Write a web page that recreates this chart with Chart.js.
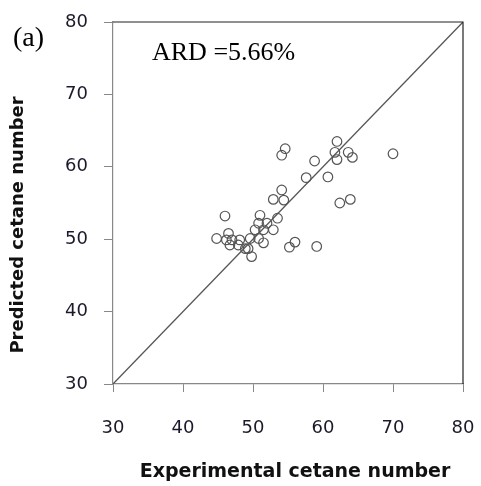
<!DOCTYPE html>
<html>
<head>
<meta charset="utf-8">
<script src="https://cdn.jsdelivr.net/npm/chart.js@4"></script>
<style>
  html, body { margin: 0; padding: 0; background: #fff; }
  canvas { display: block; }
</style>
</head>
<body>
<canvas id="canvas1" width="481" height="486"></canvas>
<script>
// experimental vs predicted cetane number
let expCN = [54.6, 54.1, 58.8, 62.0, 61.7, 62.0, 63.6, 64.2, 57.6, 60.7,
             62.4, 63.9, 54.1, 52.9, 54.4, 70.0,
             46.0, 51.0, 53.5, 50.8, 52.0, 52.9, 51.5, 50.3, 49.6, 50.8,
             51.5, 49.3, 49.8, 44.8, 46.5, 46.2, 47.0, 46.7, 47.9, 48.1,
             48.9, 55.2, 56.0, 59.1];
let predCN = [62.5, 61.6, 60.8, 63.5, 62.0, 61.0, 62.0, 61.3, 58.5, 58.6,
              55.0, 55.5, 56.8, 55.5, 55.4, 61.8,
              53.2, 53.3, 52.9, 52.2, 52.2, 51.3, 51.3, 51.3, 50.1, 50.1,
              49.5, 48.7, 47.6, 50.1, 50.8, 49.9, 49.9, 49.2, 49.2, 49.9,
              48.7, 48.9, 49.6, 49.0];
let parity = [30, 80];
let axisTicks = [30, 40, 50, 60, 70, 80];

let points = [];
for (i = 0; i < expCN.length; i++) {
  points.push({ x: expCN[i], y: predCN[i] });
}

// frame + text labels
const extras = {
  id: 'extras',
  afterDraw(chart) {
    let ctx = chart.ctx;
    let a = chart.chartArea;
    ctx.save();
    ctx.strokeStyle = '#222';
    ctx.lineWidth = 1.2;
    ctx.beginPath();
    ctx.moveTo(a.left, a.top);
    ctx.lineTo(a.right, a.top);
    ctx.lineTo(a.right, a.bottom);
    ctx.stroke();

    ctx.fillStyle = '#000';
    ctx.font = '28px "Liberation Serif"';
    ctx.textBaseline = 'alphabetic';
    ctx.textAlign = 'left';
    ctx.fillText('(a)', 13, 46);
    ctx.font = '26px "Liberation Serif"';
    ctx.fillText('ARD =5.66%', 152, 60);

    ctx.fillStyle = '#111';
    ctx.font = 'bold 19px "DejaVu Sans"';
    ctx.textAlign = 'center';
    ctx.textBaseline = 'middle';
    ctx.fillText('Experimental cetane number', 295, 472);
    ctx.font = 'bold 18px "DejaVu Sans"';
    ctx.translate(18, 225);
    ctx.rotate(-Math.PI / 2);
    ctx.fillText('Predicted cetane number', 0, 0);
    ctx.restore();
  }
};

new Chart(document.getElementById('canvas1'), {
  type: 'scatter',
  data: {
    datasets: [{
      data: points,
      pointStyle: 'circle',
      pointRadius: 4.8,
      borderColor: '#555',
      borderWidth: 1.2,
      backgroundColor: 'rgba(0,0,0,0)',
      order: 1
    }, {
      type: 'line',
      data: [{ x: parity[0], y: parity[0] }, { x: parity[1], y: parity[1] }],
      borderColor: '#555',
      borderWidth: 1.3,
      pointRadius: 0,
      fill: false,
      order: 2
    }]
  },
  options: {
    responsive: false,
    animation: false,
    layout: { padding: { top: 22, right: 18, left: 0, bottom: 0 } },
    plugins: { legend: { display: false }, tooltip: { enabled: false } },
    scales: {
      x: {
        type: 'linear', min: 30, max: 80,
        afterBuildTicks: s => { s.ticks = axisTicks.map(v => ({ value: v })); },
        afterFit: s => { s.height = 102; s.paddingLeft = 0; s.paddingRight = 0; },
        grid: { drawOnChartArea: false, tickLength: 8, color: '#888' },
        border: { color: '#888', width: 1.2 },
        ticks: { padding: 26, color: '#1a1a2a', font: { family: 'DejaVu Sans', size: 18 } }
      },
      y: {
        type: 'linear', min: 30, max: 80,
        afterBuildTicks: s => { s.ticks = axisTicks.map(v => ({ value: v })); },
        afterFit: s => { s.width = 113; s.paddingTop = 0; s.paddingBottom = 0; },
        grid: { drawOnChartArea: false, tickLength: 9, color: '#888' },
        border: { color: '#888', width: 1.2 },
        ticks: { padding: 16, color: '#1a1a2a', font: { family: 'DejaVu Sans', size: 18 } }
      }
    }
  },
  plugins: [extras]
});
</script>
</body>
</html>
